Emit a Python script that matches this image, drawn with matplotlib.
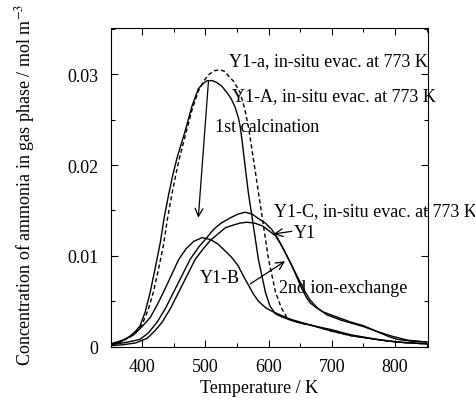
import matplotlib.pyplot as plt
from matplotlib.ticker import MultipleLocator, FixedLocator, FuncFormatter

plt.rcParams['font.family'] = ['Liberation Serif', 'DejaVu Serif']
plt.rcParams['mathtext.fontset'] = 'stix'

# Y1-A, in-situ evac. at 773 K (solid)
t_A = [350, 366, 380, 390, 397, 405, 413, 421, 429, 435, 442, 448, 455, 468, 479,
       489, 497, 503, 511, 518, 526, 534, 541, 547, 552, 555, 558, 561, 568, 576,
       584, 595, 602, 611, 620, 635, 650, 670, 700, 730, 750, 790, 820, 850]
c_A = [0.0002, 0.0005, 0.0011, 0.0017, 0.0023, 0.0038, 0.0060, 0.0087, 0.0115, 0.0142,
       0.0167, 0.0187, 0.0207, 0.0237, 0.0265, 0.0284, 0.0290, 0.0293, 0.0293, 0.0291,
       0.0287, 0.0280, 0.0273, 0.0264, 0.0253, 0.0243, 0.0228, 0.0210, 0.0170, 0.0133,
       0.0096, 0.0060, 0.0045, 0.0036, 0.0033, 0.0029, 0.0026, 0.0023, 0.0017, 0.0012,
       0.0010, 0.0006, 0.0004, 0.0003]

# Y1-a, in-situ evac. at 773 K (dashed)
t_a = [350, 366, 380, 390, 400, 410, 418, 426, 434, 440, 447, 453, 459, 470, 480,
       490, 498, 506, 515, 524, 531, 537, 545, 555, 562, 568, 576, 584, 592, 600,
       611, 620, 629, 637, 650, 670, 700, 730, 750, 790, 820, 850]
c_a = [0.0002, 0.0005, 0.0010, 0.0015, 0.0024, 0.0041, 0.0060, 0.0085, 0.0112, 0.0140,
       0.0167, 0.0188, 0.0207, 0.0237, 0.0263, 0.0283, 0.0293, 0.0300, 0.0304, 0.0305,
       0.0303, 0.0298, 0.0292, 0.0280, 0.0263, 0.0243, 0.0207, 0.0170, 0.0133, 0.0096,
       0.0060, 0.0043, 0.0032, 0.0029, 0.0026, 0.0023, 0.0017, 0.0012, 0.0010, 0.0006,
       0.0004, 0.0003]

# Y1-B
t_B = [350, 365, 376, 387, 400, 413, 424, 434, 446, 458, 470, 482, 495, 508, 520,
       532, 542, 552, 560, 568, 576, 584, 595, 605, 618, 635, 650, 670, 697, 730,
       770, 803, 850]
c_B = [0.0003, 0.0006, 0.0009, 0.0013, 0.0022, 0.0032, 0.0046, 0.0060, 0.0078, 0.0096,
       0.0108, 0.0116, 0.0120, 0.0118, 0.0113, 0.0105, 0.0098, 0.0089, 0.0078, 0.0068,
       0.0058, 0.0050, 0.0043, 0.0039, 0.0035, 0.0030, 0.0027, 0.0023, 0.0019, 0.0013,
       0.0008, 0.0005, 0.0003]

# Y1-C, in-situ evac. at 773 K
t_C = [350, 370, 385, 397, 410, 424, 437, 450, 463, 476, 490, 500, 513, 525, 540,
       552, 563, 574, 584, 595, 605, 613, 621, 629, 637, 645, 653, 660, 666, 675,
       687, 710, 730, 750, 770, 790, 803, 825, 850]
c_C = [0.0002, 0.0004, 0.0006, 0.0008, 0.0015, 0.0027, 0.0042, 0.0060, 0.0078, 0.0096,
       0.0110, 0.0118, 0.0129, 0.0136, 0.0142, 0.0146, 0.0148, 0.0146, 0.0141, 0.0136,
       0.0129, 0.0121, 0.0111, 0.0100, 0.0089, 0.0076, 0.0063, 0.0054, 0.0048, 0.0043,
       0.0038, 0.0032, 0.0027, 0.0023, 0.0017, 0.0011, 0.0008, 0.0006, 0.0005]

# Y1
t_Y = [350, 370, 390, 408, 420, 432, 445, 458, 471, 484, 496, 508, 520, 532, 545,
       555, 565, 578, 590, 600, 611, 619, 626, 634, 642, 650, 658, 666, 678, 692,
       715, 735, 750, 770, 792, 820, 850]
c_Y = [0.0001, 0.0002, 0.0004, 0.0009, 0.0017, 0.0027, 0.0042, 0.0060, 0.0078, 0.0096,
       0.0107, 0.0117, 0.0124, 0.0131, 0.0134, 0.0136, 0.0137, 0.0136, 0.0133, 0.0128,
       0.0122, 0.0113, 0.0104, 0.0093, 0.0082, 0.0071, 0.0060, 0.0051, 0.0042, 0.0035,
       0.0029, 0.0025, 0.0022, 0.0017, 0.0012, 0.0007, 0.0005]

fig = plt.figure(figsize=(4.75, 4.02), dpi=100)
ax = fig.add_axes([0.2337, 0.1343, 0.6673, 0.7936])

lw = 1.0
ax.plot(t_A, c_A, color='black', lw=lw)
ax.plot(t_a, c_a, color='black', lw=lw, ls=(0, (3, 2)))
ax.plot(t_B, c_B, color='black', lw=lw)
ax.plot(t_C, c_C, color='black', lw=lw)
ax.plot(t_Y, c_Y, color='black', lw=lw)

ax.set_xlim(351, 852)
ax.set_ylim(-0.00005, 0.0351)

ax.xaxis.set_major_locator(FixedLocator([400, 500, 600, 700, 800]))
ax.xaxis.set_minor_locator(MultipleLocator(50))
ax.yaxis.set_major_locator(MultipleLocator(0.01))
ax.yaxis.set_minor_locator(MultipleLocator(0.005))
ax.yaxis.set_major_formatter(FuncFormatter(lambda v, p: '0' if abs(v) < 1e-9 else f'{v:.2f}'))
ax.tick_params(which='both', direction='in', top=True, right=True, labelsize=13)
ax.tick_params(which='major', length=5, width=0.8)
ax.tick_params(which='minor', length=3, width=0.8)
ax.tick_params(axis='y', pad=9)
ax.tick_params(axis='x', pad=8)

fs = 13
ax.set_xlabel('Temperature / K', fontsize=fs)
ax.xaxis.set_label_coords(0.467, -0.10)
ax.set_ylabel('Concentration of ammonia in gas phase / mol m$^{-3}$', fontsize=fs)
ax.yaxis.set_label_coords(-0.232, 0.51)

ax.text(537, 0.0315, 'Y1-a, in-situ evac. at 773 K', fontsize=fs, va='center')
ax.text(542, 0.0276, 'Y1-A, in-situ evac. at 773 K', fontsize=fs, va='center')
ax.text(516, 0.0243, '1st calcination', fontsize=fs, va='center')
ax.text(608, 0.0150, 'Y1-C, in-situ evac. at 773 K', fontsize=fs, va='center')
ax.text(640, 0.0126, 'Y1', fontsize=fs, va='center')
ax.text(492, 0.0076, 'Y1-B', fontsize=fs, va='center')
ax.text(616, 0.0065, '2nd ion-exchange', fontsize=fs, va='center')

arrow = dict(arrowstyle='->', color='black', lw=0.9, shrinkA=0, shrinkB=0,
             mutation_scale=14)
ax.annotate('', xy=(489, 0.0142), xytext=(505, 0.0292), arrowprops=arrow)
ax.annotate('', xy=(626, 0.0094), xytext=(571, 0.0069), arrowprops=arrow)
ax.annotate('', xy=(608, 0.0124), xytext=(637, 0.0127), arrowprops=arrow)

fig.savefig('out.png', dpi=100)
